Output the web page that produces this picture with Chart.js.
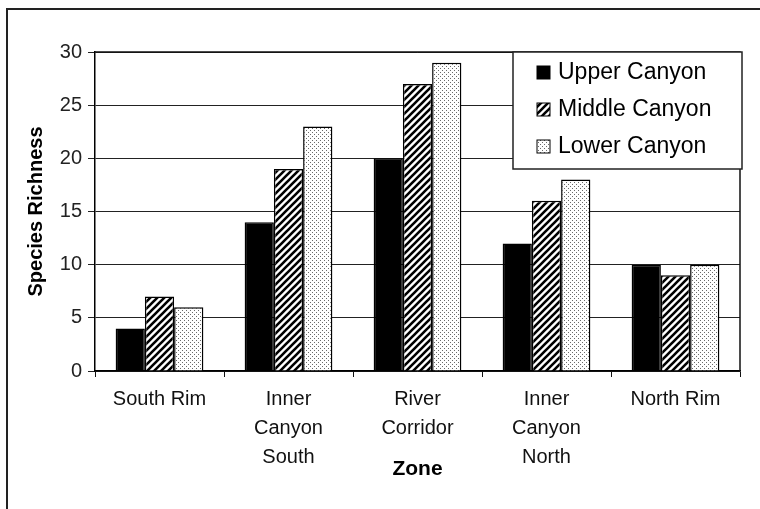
<!DOCTYPE html>
<html>
<head>
<meta charset="utf-8">
<script src="https://cdn.jsdelivr.net/npm/chart.js@4.4.1/dist/chart.umd.min.js"></script>
<style>
  body { margin: 0; background: #fff; }
  canvas { display: block; }
</style>
</head>
<body>
<canvas id="myChart" width="760" height="509"></canvas>
<script>
// data
var zones = [['South Rim'], ['Inner', 'Canyon', 'South'], ['River', 'Corridor'], ['Inner', 'Canyon', 'North'], ['North Rim']];
var upperCanyon = [4, 14, 20, 12, 10];
var middleCanyon = [7, 19, 27, 16, 9];
var lowerCanyon = [6, 23, 29, 18, 10];
var seriesNames = ['Upper Canyon', 'Middle Canyon', 'Lower Canyon'];
var yTicks = [0, 5, 10, 15, 20, 25, 30];

function makeHatch() {
    var c = document.createElement('canvas');
    c.width = 7; c.height = 7;
    var g = c.getContext('2d');
    g.fillStyle = '#fff';
    g.fillRect(0, 0, 7, 7);
    g.strokeStyle = '#000';
    g.lineWidth = 2.6;
    g.beginPath();
    g.moveTo(-1, 8); g.lineTo(8, -1);
    g.moveTo(-4, 4); g.lineTo(4, -4);
    g.moveTo(3, 11); g.lineTo(11, 3);
    g.stroke();
    return g.createPattern(c, 'repeat');
}

function makeDots() {
    var c = document.createElement('canvas');
    c.width = 4; c.height = 4;
    var g = c.getContext('2d');
    g.fillStyle = '#fff';
    g.fillRect(0, 0, 4, 4);
    g.fillStyle = '#6a6a6a';
    g.fillRect(0, 0, 1, 1);
    g.fillRect(2, 2, 1, 1);
    return g.createPattern(c, 'repeat');
}

var fills = ['#000', makeHatch(), makeDots()];

// white page + frame line top/left
var framePlugin = {
    id: 'frame',
    beforeDraw: function (chart) {
        var ctx = chart.ctx;
        ctx.save();
        ctx.fillStyle = '#fff';
        ctx.fillRect(0, 0, chart.width, chart.height);
        ctx.strokeStyle = '#222';
        ctx.lineWidth = 2;
        ctx.beginPath();
        ctx.moveTo(7, chart.height + 5);
        ctx.lineTo(7, 9);
        ctx.lineTo(chart.width + 5, 9);
        ctx.stroke();
        ctx.restore();
    },
    afterDatasetsDraw: function (chart) {
        var ctx = chart.ctx;
        var a = chart.chartArea;
        ctx.save();
        // plot box top + right
        ctx.strokeStyle = '#111';
        ctx.lineWidth = 1.5;
        ctx.beginPath();
        ctx.moveTo(a.left, a.top);
        ctx.lineTo(a.right, a.top);
        ctx.lineTo(a.right, a.bottom);
        ctx.stroke();

        // legend box inside plot, top right
        var bx = a.right - 227, by = a.top, bw = 229, bh = 117;
        ctx.fillStyle = '#fff';
        ctx.fillRect(bx, by, bw, bh);
        ctx.strokeStyle = '#222';
        ctx.lineWidth = 1.5;
        ctx.strokeRect(bx, by, bw, bh);
        ctx.font = '23px "Liberation Sans", Arial, sans-serif';
        ctx.textBaseline = 'middle';
        ctx.textAlign = 'left';
        chart.data.datasets.forEach(function (ds, i) {
            var cy = by + 21 + i * 37;
            ctx.fillStyle = ds.backgroundColor;
            ctx.fillRect(bx + 24, cy - 7, 13, 13);
            ctx.strokeStyle = '#000';
            ctx.lineWidth = 1;
            ctx.strokeRect(bx + 24, cy - 7, 13, 13);
            ctx.fillStyle = '#000';
            ctx.fillText(ds.label, bx + 45, cy);
        });
        ctx.restore();
    }
};

var ctx = document.getElementById('myChart').getContext('2d');
var myChart = new Chart(ctx, {
    type: 'bar',
    data: {
        labels: zones,
        datasets: [upperCanyon, middleCanyon, lowerCanyon].map(function (vals, i) {
            return {
                label: seriesNames[i],
                data: vals,
                backgroundColor: fills[i],
                borderColor: '#000',
                borderWidth: 1.5,
                categoryPercentage: 0.68,
                barPercentage: 1
            };
        })
    },
    options: {
        responsive: false,
        animation: false,
        devicePixelRatio: 1,
        layout: { padding: { left: 20, right: 20, top: 52, bottom: 0 } },
        plugins: {
            legend: { display: false },
            tooltip: { enabled: false }
        },
        scales: {
            x: {
                grid: {
                    display: true,
                    drawOnChartArea: false,
                    tickLength: 6,
                    color: '#111'
                },
                border: { display: true, color: '#000', width: 1.5 },
                ticks: {
                    color: '#111',
                    padding: 8,
                    maxRotation: 0,
                    font: { family: '"Liberation Sans", Arial, sans-serif', size: 20, lineHeight: 1.45 }
                },
                title: {
                    display: true,
                    text: 'Zone',
                    color: '#000',
                    padding: { top: 0, bottom: 27 },
                    font: { family: '"Liberation Sans", Arial, sans-serif', size: 21, weight: 'bold' }
                },
                afterFit: function (scale) { scale.height = 138; }
            },
            y: {
                min: 0,
                max: 30,
                afterBuildTicks: function (scale) {
                    scale.ticks = yTicks.map(function (v) { return { value: v }; });
                },
                grid: {
                    color: '#222',
                    lineWidth: 1,
                    tickLength: 7
                },
                border: { display: true, color: '#000', width: 1.5 },
                ticks: {
                    color: '#222',
                    padding: 6,
                    font: { family: '"Liberation Sans", Arial, sans-serif', size: 20 }
                },
                title: {
                    display: true,
                    text: 'Species Richness',
                    color: '#000',
                    padding: { top: 4, bottom: 0 },
                    font: { family: '"Liberation Sans", Arial, sans-serif', size: 20, weight: 'bold' }
                },
                afterFit: function (scale) { scale.width = 75; }
            }
        }
    },
    plugins: [framePlugin]
});
</script>
</body>
</html>
